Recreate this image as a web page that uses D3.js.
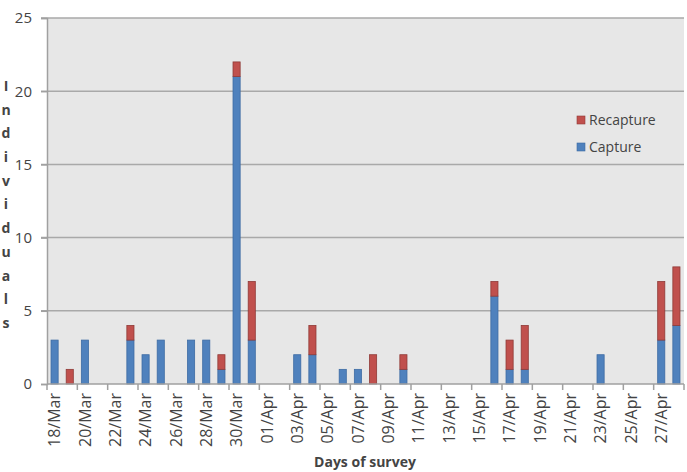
<!doctype html>
<html>
<head>
  <meta charset="utf-8">
  <script src="https://d3js.org/d3.v7.min.js"></script>
  <style>
    body { margin: 0; background: #fff; }
    text { font-family: "Open Sans", sans-serif; fill: #444; }
  </style>
</head>
<body>
  <script>

    // survey days, 18 Mar - 28 Apr
    var days = ["18/Mar","19/Mar","20/Mar","21/Mar","22/Mar","23/Mar","24/Mar","25/Mar","26/Mar","27/Mar",
                "28/Mar","29/Mar","30/Mar","31/Mar","01/Apr","02/Apr","03/Apr","04/Apr","05/Apr","06/Apr",
                "07/Apr","08/Apr","09/Apr","10/Apr","11/Apr","12/Apr","13/Apr","14/Apr","15/Apr","16/Apr",
                "17/Apr","18/Apr","19/Apr","20/Apr","21/Apr","22/Apr","23/Apr","24/Apr","25/Apr","26/Apr",
                "27/Apr","28/Apr"];

    var capture   = [3,0,3,0,0,3,2,3,0,3, 3,1,21,3,0,0,2,2,0,1, 1,0,0,1,0,0,0,0,0,6, 1,1,0,0,0,0,2,0,0,0, 3,4];
    var recapture = [0,1,0,0,0,1,0,0,0,0, 0,1,1,4,0,0,0,2,0,0, 0,2,0,1,0,0,0,0,0,1, 2,3,0,0,0,0,0,0,0,0, 4,4];

    var yTicks = [0, 5, 10, 15, 20, 25];

    var series = [
      { name: "Capture",   values: capture,   fill: "#4f81bd", stroke: "#3d6ba3" },
      { name: "Recapture", values: recapture, fill: "#c0504d", stroke: "#8f3a37" }
    ];

    var width = 687, height = 472;
    var plotL = 47, plotR = 684, plotT = 18, plotB = 384;

    var svg = d3.select("body").append("svg")
        .attr("width", width)
        .attr("height", height);

    var x = d3.scaleBand()
        .domain(days)
        .range([plotL, plotR])
        .paddingInner(0.53)
        .paddingOuter(0.265);

    var y = d3.scaleLinear()
        .domain([0, 25])
        .range([plotB, plotT]);

    // plot area
    svg.append("rect")
        .attr("x", plotL).attr("y", plotT)
        .attr("width", plotR - plotL).attr("height", plotB - plotT)
        .attr("fill", "#e7e7e7");

    // gridlines
    svg.append("g").selectAll("line")
        .data(yTicks.filter(function (d) { return d > 0; }))
        .enter().append("line")
        .attr("x1", plotL - 6).attr("x2", plotR)
        .attr("y1", function (d) { return y(d); })
        .attr("y2", function (d) { return y(d); })
        .attr("stroke", "#a9a9a9")
        .attr("stroke-width", 1.5);

    // y axis
    var yAxis = svg.append("g")
        .attr("transform", "translate(" + plotL + ",0)")
        .call(d3.axisLeft(y).tickValues(yTicks).tickSize(6).tickPadding(9));
    yAxis.select(".domain").attr("stroke", "#a0a0a0").attr("stroke-width", 1.5);
    yAxis.selectAll(".tick line").attr("stroke", "#a0a0a0").attr("stroke-width", 1.5);
    yAxis.selectAll("text").style("font-size", "15px").attr("fill", "#444");

    // stacked bars
    var stackData = days.map(function (d, i) {
      return { day: d, Capture: capture[i], Recapture: recapture[i] };
    });
    var stack = d3.stack().keys(["Capture", "Recapture"])(stackData);

    svg.append("g").selectAll("g")
        .data(stack)
        .enter().append("g")
        .attr("fill", function (d, i) { return series[i].fill; })
        .attr("stroke", function (d, i) { return series[i].stroke; })
        .selectAll("rect")
        .data(function (d) { return d.filter(function (p) { return p[1] - p[0] > 0; }); })
        .enter().append("rect")
        .attr("x", function (d) { return x(d.data.day); })
        .attr("width", x.bandwidth())
        .attr("y", function (d) { return y(d[1]); })
        .attr("height", function (d) { return y(d[0]) - y(d[1]); })
        .attr("stroke-width", 0.8);

    // x axis: line, ticks every two days, labels on even days
    var step = x.step();
    var xAxis = svg.append("g");
    xAxis.append("line")
        .attr("x1", plotL).attr("x2", plotR)
        .attr("y1", plotB).attr("y2", plotB)
        .attr("stroke", "#a0a0a0").attr("stroke-width", 1.5);

    var tickPos = days.filter(function (d, i) { return i % 2 === 0; })
        .map(function (d) { return x(d) - (step - x.bandwidth()) / 2; });
    tickPos.push(plotR);
    xAxis.selectAll(".xt")
        .data(tickPos)
        .enter().append("line")
        .attr("x1", function (d) { return d; }).attr("x2", function (d) { return d; })
        .attr("y1", plotB).attr("y2", plotB + 6)
        .attr("stroke", "#a0a0a0").attr("stroke-width", 1.5);

    xAxis.selectAll("text")
        .data(days.filter(function (d, i) { return i % 2 === 0; }))
        .enter().append("text")
        .attr("transform", function (d) {
          return "translate(" + (x(d) + x.bandwidth() / 2) + "," + (plotB + 9) + ") rotate(-90)";
        })
        .attr("text-anchor", "end")
        .attr("dy", "0.35em")
        .style("font-size", "16px")
        .text(function (d) { return d; });

    // axis titles
    svg.append("text")
        .attr("x", 365).attr("y", 467)
        .attr("text-anchor", "middle")
        .style("font-size", "14px")
        .style("font-weight", "bold")
        .attr("fill", "#111")
        .text("Days of survey");

    svg.append("g").selectAll("text")
        .data("Individuals".split(""))
        .enter().append("text")
        .attr("x", 6)
        .attr("y", function (d, i) { return 86 + i * 23.7; })
        .attr("dy", "0.35em")
        .attr("text-anchor", "middle")
        .style("font-size", "14px")
        .style("font-weight", "bold")
        .attr("fill", "#111")
        .text(function (d) { return d; });

    // legend
    var legend = svg.append("g").selectAll("g")
        .data([series[1], series[0]])
        .enter().append("g")
        .attr("transform", function (d, i) { return "translate(577," + (116 + i * 27) + ")"; });
    legend.append("rect")
        .attr("width", 8).attr("height", 8)
        .attr("fill", function (d) { return d.fill; })
        .attr("stroke", function (d) { return d.stroke; })
        .attr("stroke-width", 0.6);
    legend.append("text")
        .attr("x", 12).attr("y", 4)
        .attr("dy", "0.35em")
        .style("font-size", "14px")
        .attr("fill", "#333")
        .text(function (d) { return d.name; });

  </script>
</body>
</html>
